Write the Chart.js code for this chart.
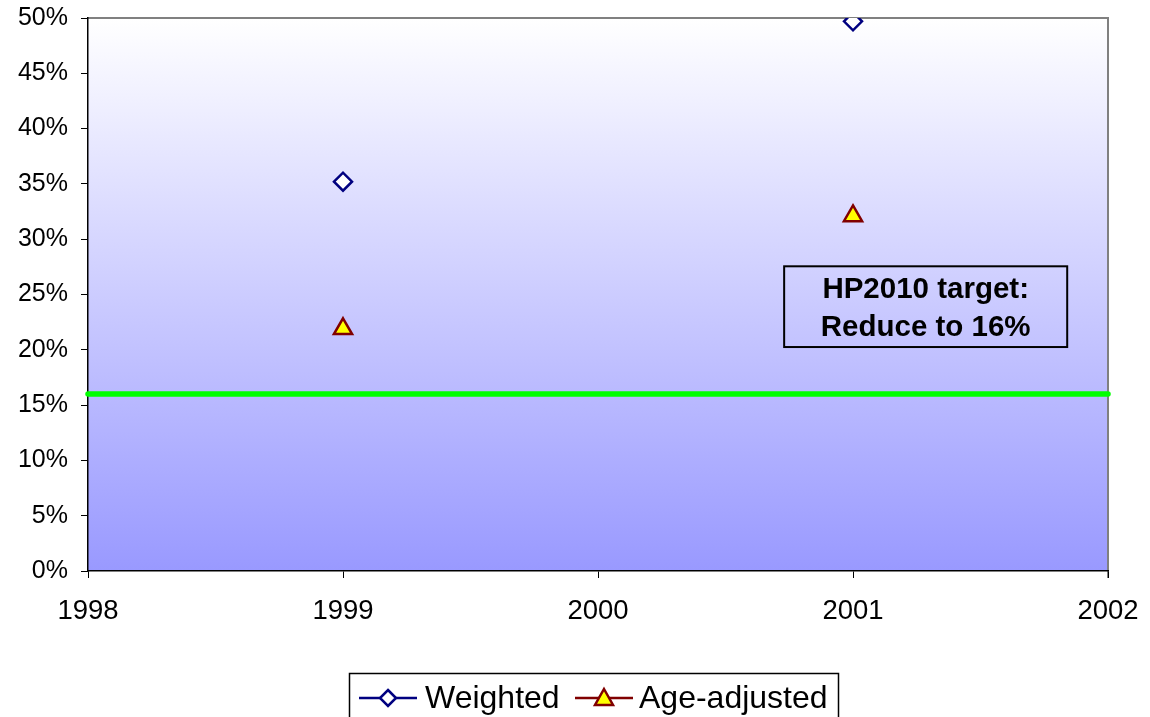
<!DOCTYPE html>
<html>
<head>
<meta charset="utf-8">
<script src="https://cdn.jsdelivr.net/npm/chart.js@4/dist/chart.umd.min.js"></script>
<style>
  html, body { margin: 0; padding: 0; background: #fff; }
  #wrap { width: 1150px; height: 717px; position: relative; }
</style>
</head>
<body>
<div id="wrap"><canvas id="myChart"></canvas></div>
<script>
// data
const years = [1999, 2001];
const weighted = [0.352, 0.497];
const ageAdjusted = [0.219, 0.321];
const targetYears = [1998, 2002];
const targetValue = [0.16, 0.16];
const yearTicks = [1998, 1999, 2000, 2001, 2002];
const seriesNames = ['Weighted', 'Age-adjusted'];
const noteLines = ['HP2010 target:', 'Reduce to 16%'];

const FONT = '"Liberation Sans", Arial, sans-serif';

// gradient plot area + grey top/right border
const plotBg = {
  id: 'plotBg',
  beforeDraw(chart) {
    const { ctx, chartArea: a } = chart;
    const g = ctx.createLinearGradient(0, a.top, 0, a.bottom);
    g.addColorStop(0, '#ffffff');
    g.addColorStop(1, '#9999ff');
    ctx.save();
    ctx.fillStyle = g;
    ctx.fillRect(a.left, a.top, a.right - a.left, a.bottom - a.top);
    ctx.strokeStyle = '#808080';
    ctx.lineWidth = 2;
    ctx.beginPath();
    ctx.moveTo(a.left, a.top);
    ctx.lineTo(a.right, a.top);
    ctx.lineTo(a.right, a.bottom + 7);
    ctx.stroke();
    ctx.restore();
  }
};

// text box + legend
const extras = {
  id: 'extras',
  afterDraw(chart) {
    const { ctx } = chart;
    const x = chart.scales.x, y = chart.scales.y;
    ctx.save();
    // annotation box
    const l = x.getPixelForValue(2000.73), r = x.getPixelForValue(2001.84);
    const t = y.getPixelForValue(0.2755), b = y.getPixelForValue(0.2025);
    ctx.strokeStyle = '#000';
    ctx.lineWidth = 2;
    ctx.strokeRect(l, t, r - l, b - t);
    ctx.fillStyle = '#000';
    ctx.font = 'bold 29.5px ' + FONT;
    ctx.textAlign = 'center';
    ctx.textBaseline = 'alphabetic';
    const cx = (l + r) / 2;
    ctx.fillText(noteLines[0], cx, t + 32);
    ctx.fillText(noteLines[1], cx, t + 70);

    // legend
    ctx.lineWidth = 1.5;
    ctx.strokeStyle = '#000';
    ctx.strokeRect(349.5, 673.5, 489, 60);
    ctx.font = '32px ' + FONT;
    ctx.textAlign = 'left';
    const ly = 698;
    // weighted
    ctx.strokeStyle = '#000080';
    ctx.lineWidth = 2.5;
    ctx.beginPath(); ctx.moveTo(359, ly); ctx.lineTo(417, ly); ctx.stroke();
    ctx.fillStyle = '#fff';
    ctx.beginPath();
    ctx.moveTo(388, ly - 8); ctx.lineTo(396, ly); ctx.lineTo(388, ly + 8); ctx.lineTo(380, ly);
    ctx.closePath(); ctx.fill(); ctx.stroke();
    ctx.fillStyle = '#000';
    ctx.fillText(seriesNames[0], 425, 708);
    // age-adjusted
    ctx.strokeStyle = '#800000';
    ctx.beginPath(); ctx.moveTo(575, ly); ctx.lineTo(633, ly); ctx.stroke();
    ctx.fillStyle = '#ffff00';
    ctx.beginPath();
    ctx.moveTo(604, ly - 9); ctx.lineTo(613, ly + 7); ctx.lineTo(595, ly + 7);
    ctx.closePath(); ctx.fill(); ctx.stroke();
    ctx.fillStyle = '#000';
    ctx.fillText(seriesNames[1], 639, 708);
    ctx.restore();
  }
};

const ctx = document.getElementById('myChart').getContext('2d');
const myChart = new Chart(ctx, {
  type: 'scatter',
  data: {
    datasets: [
      {
        label: seriesNames[0],
        data: years.map((yr, i) => ({ x: yr, y: weighted[i] })),
        pointStyle: 'rectRot',
        pointRadius: 9,
        pointBorderWidth: 2.5,
        backgroundColor: '#ffffff',
        borderColor: '#000080',
        showLine: false
      },
      {
        label: seriesNames[1],
        data: years.map((yr, i) => ({ x: yr, y: ageAdjusted[i] })),
        pointStyle: 'triangle',
        pointRadius: 10.5,
        pointBorderWidth: 2.5,
        backgroundColor: '#ffff00',
        borderColor: '#800000',
        showLine: false
      },
      {
        label: 'target',
        data: targetYears.map((yr, i) => ({ x: yr, y: targetValue[i] })),
        showLine: true,
        borderColor: '#00ff00',
        borderWidth: 5.5,
        borderCapStyle: 'round',
        pointRadius: 0,
        clip: 4
      }
    ]
  },
  options: {
    responsive: true,
    maintainAspectRatio: false,
    animation: false,
    layout: { padding: { left: 0, top: 18, right: 42, bottom: 0 } },
    plugins: {
      legend: { display: false },
      tooltip: { enabled: false }
    },
    scales: {
      x: {
        type: 'linear',
        min: 1998,
        max: 2002,
        afterBuildTicks: (s) => { s.ticks = yearTicks.map(v => ({ value: v })); },
        afterFit: (s) => { s.height = 146; s.paddingLeft = 0; s.paddingRight = 0; },
        ticks: {
          callback: (v) => String(v),
          color: '#000',
          font: { family: FONT, size: 27.5 },
          padding: 17,
          maxRotation: 0
        },
        grid: { drawOnChartArea: false, color: '#000', tickLength: 7 },
        border: { color: '#000', width: 1.5 }
      },
      y: {
        min: 0,
        max: 0.5,
        afterFit: (s) => { s.width = 88; s.paddingTop = 0; s.paddingBottom = 0; },
        ticks: {
          stepSize: 0.05,
          callback: (v) => Math.round(v * 100) + '%',
          color: '#000',
          font: { family: FONT, size: 25 },
          padding: 13
        },
        grid: { drawOnChartArea: false, color: '#000', tickLength: 7 },
        border: { color: '#000', width: 1.5 }
      }
    }
  },
  plugins: [plotBg, extras]
});
</script>
</body>
</html>
